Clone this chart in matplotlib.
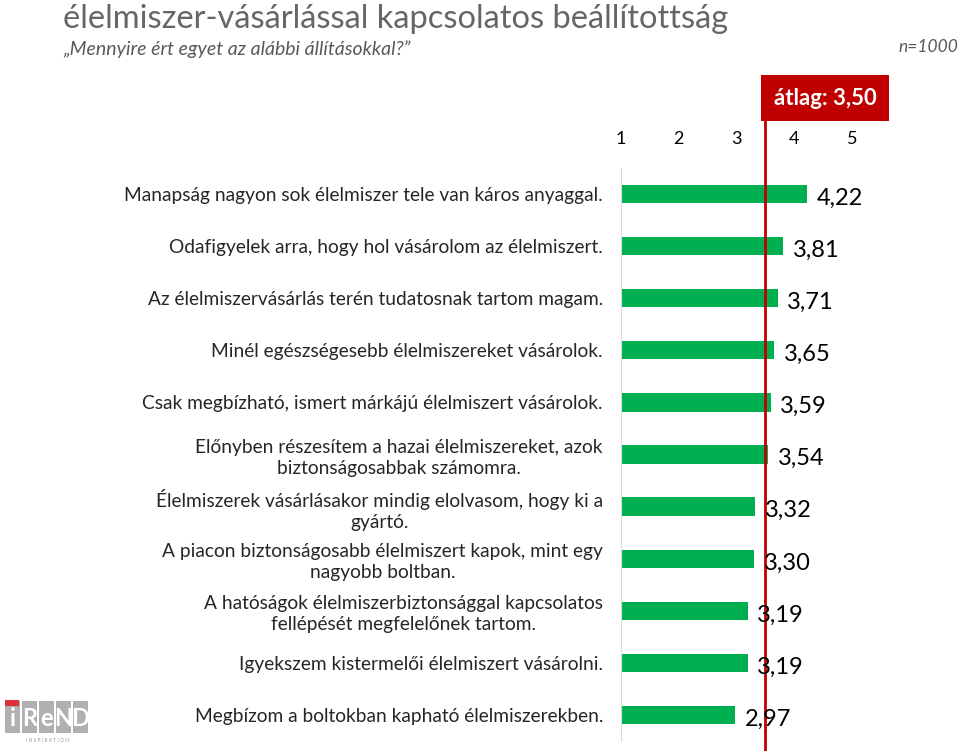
import matplotlib.pyplot as plt
from matplotlib.patches import Rectangle

# átlagos egyetértés (1-5 skála)
statements = [
    'Manapság nagyon sok élelmiszer tele van káros anyaggal.',
    'Odafigyelek arra, hogy hol vásárolom az élelmiszert.',
    'Az élelmiszervásárlás terén tudatosnak tartom magam.',
    'Minél egészségesebb élelmiszereket vásárolok.',
    'Csak megbízható, ismert márkájú élelmiszert vásárolok.',
    'Előnyben részesítem a hazai élelmiszereket, azok\nbiztonságosabbak számomra.',
    'Élelmiszerek vásárlásakor mindig elolvasom, hogy ki a\ngyártó.',
    'A piacon biztonságosabb élelmiszert kapok, mint egy\nnagyobb boltban.',
    'A hatóságok élelmiszerbiztonsággal kapcsolatos\nfellépését megfelelőnek tartom.',
    'Igyekszem kistermelői élelmiszert vásárolni.',
    'Megbízom a boltokban kapható élelmiszerekben.',
]
scores = [4.22, 3.81, 3.71, 3.65, 3.59, 3.54, 3.32, 3.30, 3.19, 3.19, 2.97]
average = 3.50
scale_ticks = [1, 2, 3, 4, 5]

green = '#00B050'
darkred = '#C00000'
grey = '#595959'

plt.rcParams['font.family'] = ['Lato', 'DejaVu Sans']

fig = plt.figure(figsize=(9.6, 7.51), dpi=100)
ax = fig.add_axes([0.6469, 0.0133, 0.2708, 0.763])

ypos = list(range(len(scores)))
ax.barh(ypos, [s - 1 for s in scores], left=1, height=0.35, color=green)
ax.set_ylim(len(scores) - 0.5, -0.5)
ax.set_xlim(1, 5.5)

for y, s in zip(ypos, scores):
    ax.annotate(f'{s:.2f}'.replace('.', ','), (s, y), xytext=(7, -3),
                textcoords='offset points', ha='left', va='center',
                fontsize=17, color='black')

ax.set_yticks(ypos)
ax.set_yticklabels(statements, fontsize=13.8, color='#262626', linespacing=1.25)
for lab in ax.get_yticklabels():
    lab.set_multialignment('center')
ax.tick_params(axis='y', length=0, pad=13)

ax.set_xticks(scale_ticks)
ax.set_xticklabels([str(t) for t in scale_ticks], fontsize=13)
ax.xaxis.tick_top()
ax.tick_params(axis='x', length=0, pad=15)

for sp in ['top', 'right', 'bottom']:
    ax.spines[sp].set_visible(False)
ax.spines['left'].set_color('#D9D9D9')

ax.axvline(average, ymin=-0.02, ymax=1.089, color=darkred, lw=2, clip_on=False)

# átlag doboz
fig.text(0.8594, 0.8695, 'átlag: ' + f'{average:.2f}'.replace('.', ','),
         ha='center', va='center', fontsize=16, color='white', weight='bold',
         bbox=dict(boxstyle='square,pad=0.55', fc=darkred, ec='none'))

fig.text(0.066, 1 - 28 / 751, 'élelmiszer-vásárlással kapcsolatos beállítottság',
         fontsize=23.5, color='#666666', ha='left', va='baseline')
fig.text(0.066, 0.935, '„Mennyire ért egyet az alábbi állításokkal?”',
         fontsize=14, color=grey, style='italic', ha='left', va='center')
fig.text(0.998, 0.937, 'n=1000', fontsize=12.5, color=grey, style='italic',
         ha='right', va='center')

# logó
lx = [5, 22, 39, 56, 73]
for i, ch in enumerate('iReND'):
    fig.patches.append(Rectangle((lx[i] / 960, 1 - 733 / 751), 15 / 960, 32 / 751,
                                 transform=fig.transFigure, fc='#B0B0B0', ec='none'))
    fig.text((lx[i] + 7.5) / 960, 1 - 718 / 751, ch, ha='center', va='center',
             fontsize=17, color='white', weight='bold')
fig.patches.append(Rectangle((5 / 960, 1 - 706 / 751), 14 / 960, 6 / 751,
                             transform=fig.transFigure, fc='#E0303A', ec='none'))
fig.text(47 / 960, 1 - 741 / 751, 'I N S P I R A T I O N', ha='center', va='center',
         fontsize=3.5, color='#999999')

fig.savefig('out.png', dpi=100)
